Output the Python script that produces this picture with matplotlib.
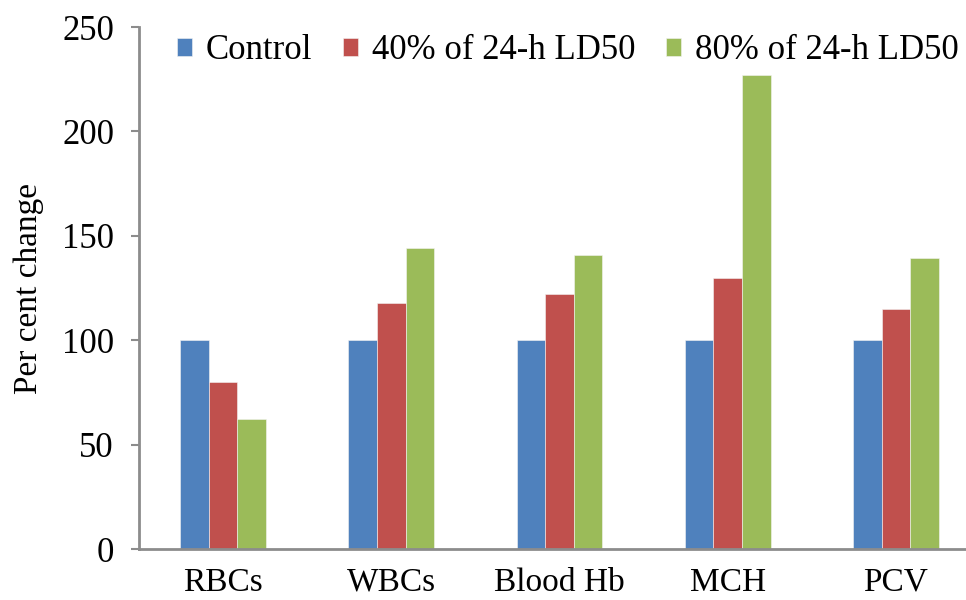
import matplotlib.pyplot as plt
import numpy as np

# data
categories = ['RBCs', 'WBCs', 'Blood Hb', 'MCH', 'PCV']
series_names = ['Control', '40% of 24-h LD50', '80% of 24-h LD50']
control = [100, 100, 100, 100, 100]
ld40 = [80, 117.7, 122, 130, 115]
ld80 = [62.5, 144.3, 140.7, 227, 139.5]
colors = ['#4F81BD', '#C0504D', '#9BBB59']

plt.rcParams['font.family'] = ['Liberation Serif', 'DejaVu Serif']

fig = plt.figure(figsize=(9.66, 6.0), dpi=100)
ax = fig.add_axes([139 / 966, 1 - 549 / 600, 841 / 966, 522 / 600])

x = np.arange(len(categories))
w = 0.17
for i, (vals, name, col) in enumerate(zip([control, ld40, ld80], series_names, colors)):
    ax.bar(x + (i - 1) * w, vals, width=w, color=col, label=name,
           edgecolor='#f4f4f4', linewidth=0.4)

ax.set_xlim(-0.5, len(categories) - 0.5)
ax.set_ylim(0, 250)
ax.set_yticks(range(0, 251, 50))
ax.set_xticks(x)
ax.set_xticklabels(categories)
ax.tick_params(axis='y', direction='out', length=6, width=1.5, color='#8c8c8c',
               labelsize=25, pad=12)
ax.tick_params(axis='x', length=0, labelsize=24, pad=13)
ax.set_ylabel('Per cent change', fontsize=24)
ax.yaxis.set_label_coords(-0.113, 0.5)

for s in ['top', 'right']:
    ax.spines[s].set_visible(False)
for s in ['left', 'bottom']:
    ax.spines[s].set_color('#8c8c8c')
    ax.spines[s].set_linewidth(2)

ax.legend(loc='upper left', bbox_to_anchor=(177 / 966, 1 - 34 / 600),
          bbox_transform=fig.transFigure, ncol=3, frameon=False,
          fontsize=25, handlelength=0.42, handleheight=0.42, handletextpad=0.4,
          columnspacing=0.9, borderaxespad=0, borderpad=0)

fig.savefig('out.png', dpi=100)
